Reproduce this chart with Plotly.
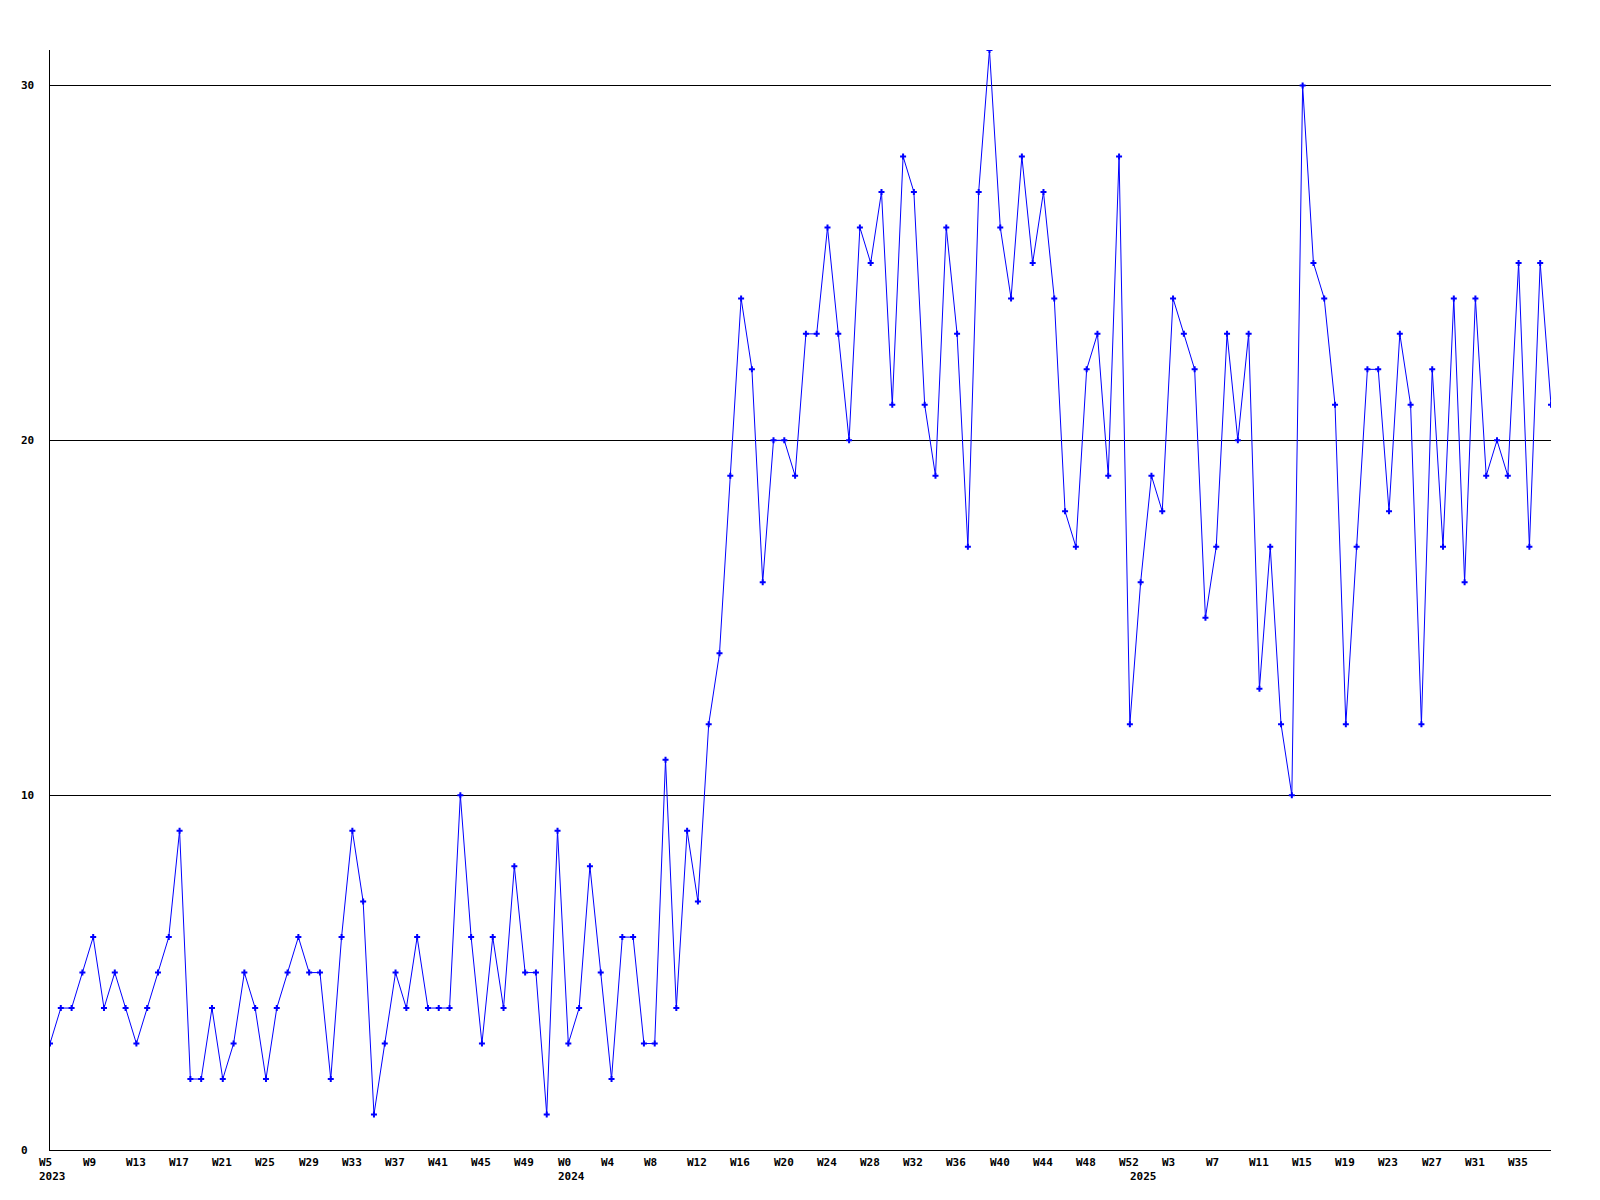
import plotly.graph_objects as go

# weekly values, 2023 W5 .. 2025 (140 points)
values = [
    3, 4, 4, 5, 6, 4, 5, 4, 3, 4,
    5, 6, 9, 2, 2, 4, 2, 3, 5, 4,
    2, 4, 5, 6, 5, 5, 2, 6, 9, 7,
    1, 3, 5, 4, 6, 4, 4, 4, 10, 6,
    3, 6, 4, 8, 5, 5, 1, 9, 3, 4,
    8, 5, 2, 6, 6, 3, 3, 11, 4, 9,
    7, 12, 14, 19, 24, 22, 16, 20, 20, 19,
    23, 23, 26, 23, 20, 26, 25, 27, 21, 28,
    27, 21, 19, 26, 23, 17, 27, 31, 26, 24,
    28, 25, 27, 24, 18, 17, 22, 23, 19, 28,
    12, 16, 19, 18, 24, 23, 22, 15, 17, 23,
    20, 23, 13, 17, 12, 10, 30, 25, 24, 21,
    12, 17, 22, 22, 18, 23, 21, 12, 22, 17,
    24, 16, 24, 19, 20, 19, 25, 17, 25, 21,
]

week_labels = ["W5", "W9", "W13", "W17", "W21", "W25", "W29", "W33", "W37", "W41", "W45", "W49",
               "W0", "W4", "W8", "W12", "W16", "W20", "W24", "W28", "W32", "W36", "W40", "W44", "W48", "W52",
               "W3", "W7", "W11", "W15", "W19", "W23", "W27", "W31", "W35"]
week_label_idx = list(range(0, 140, 4))  # every 4th point carries a label

year_labels = ["2023", "2024", "2025"]
year_label_idx = [0, 48, 101]  # first point of each year

y_ticks = [0, 10, 20, 30]

x_idx = list(range(len(values)))
x_max = len(values) - 1
y_max = max(values)

LABEL_SHIFT = 1.08  # labels start slightly left of their point (index units)

FONT = dict(family="DejaVu Sans Mono", size=11, color="black", weight="bold")

fig = go.Figure()
fig.add_trace(go.Scatter(
    x=x_idx, y=values, mode="lines+markers",
    line=dict(color="#0000ff", width=1),
    marker=dict(symbol="cross", size=5, color="#0000ff", line=dict(width=0)),
    showlegend=False, hoverinfo="skip",
))

annotations = []
for lab, i in zip(week_labels, week_label_idx):
    annotations.append(dict(text=lab, x=(i - LABEL_SHIFT) / x_max, xref="paper", y=-0.0114, yref="paper",
                            xanchor="left", yanchor="middle", showarrow=False, font=FONT, borderpad=0))
for lab, i in zip(year_labels, year_label_idx):
    annotations.append(dict(text=lab, x=(i - LABEL_SHIFT) / x_max, xref="paper", y=-0.0245, yref="paper",
                            xanchor="left", yanchor="middle", showarrow=False, font=FONT, borderpad=0))
for v in y_ticks:
    annotations.append(dict(text=str(v), x=-0.0203, xref="paper", y=v, yref="y",
                            xanchor="left", yanchor="middle", showarrow=False, font=FONT, borderpad=0))

fig.update_layout(
    width=1600, height=1200,
    margin=dict(l=50, r=49, t=50, b=50),
    paper_bgcolor="white", plot_bgcolor="white",
    xaxis=dict(range=[0, x_max], showgrid=False, zeroline=False, showline=True,
               linecolor="black", linewidth=1, showticklabels=False, ticks=""),
    yaxis=dict(range=[0, y_max], tickvals=y_ticks, showgrid=True, gridcolor="black", gridwidth=1,
               zeroline=False, showline=True, linecolor="black", linewidth=1,
               showticklabels=False, ticks=""),
    annotations=annotations,
)

fig.write_html("out.html", config={"displayModeBar": False},
               post_script="document.body.style.margin='0';")
